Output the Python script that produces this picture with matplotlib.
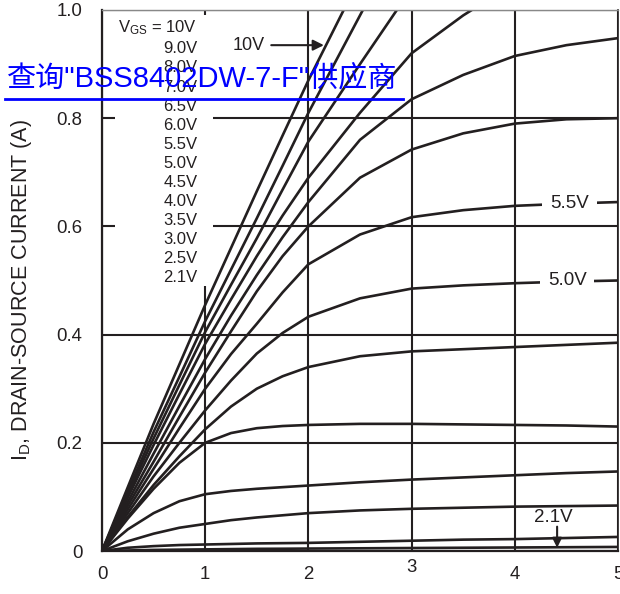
import matplotlib
matplotlib.use("Agg")
import matplotlib.pyplot as plt
from matplotlib.patches import Rectangle
from matplotlib.lines import Line2D
import numpy as np

plt.rcParams['font.family'] = ['Liberation Sans', 'DejaVu Sans']
plt.rcParams['mathtext.default'] = 'regular'

# Drain-source voltage sample points (V)
vds = [0, 0.25, 0.5, 0.75, 1.0, 1.25, 1.5, 1.75, 2.0, 2.5, 3.0, 3.5, 4.0, 4.5, 5.0]

# Drain current (A) for each gate voltage
id_10v = [0, .118, .235, .345, .455, .56, .665, .768, .87, 1.06, 1.24, 1.4, 1.55, 1.7, 1.85]
id_9v = [0, .11, .22, .322, .425, .52, .615, .712, .81, .99, 1.17, 1.33, 1.48, 1.62, 1.75]
id_8v = [0, .105, .208, .307, .405, .492, .578, .668, .757, .90, 1.04, 1.16, 1.27, 1.37, 1.46]
id_7v = [0, .099, .196, .29, .383, .465, .545, .62, .69, .81, .92, .99, 1.05, 1.10, 1.14]
id_6v5 = [0, .091, .18, .268, .355, .435, .51, .58, .645, .76, .835, .88, .915, .935, .948]
id_6v = [0, .084, .165, .248, .33, .406, .48, .545, .60, .69, .742, .772, .79, .798, .80]
id_5v5 = [0, .077, .152, .227, .30, .364, .42, .478, .53, .585, .617, .63, .638, .642, .645]
id_5v = [0, .07, .138, .20, .26, .315, .365, .403, .433, .467, .485, .491, .495, .498, .50]
id_4v5 = [0, .063, .122, .175, .225, .267, .30, .323, .34, .36, .369, .373, .377, .381, .385]
id_4v = [0, .06, .115, .163, .20, .218, .227, .231, .233, .235, .235, .234, .233, .232, .23]
id_3v5 = [0, .04, .07, .092, .105, .111, .115, .118, .121, .127, .132, .136, .14, .144, .147]
id_3v = [0, .018, .032, .043, .05, .057, .062, .066, .07, .075, .078, .08, .082, .083, .084]
id_2v5 = [0, .006, .009, .011, .012, .013, .014, .0145, .015, .017, .019, .021, .022, .024, .026]
id_2v1 = [0, .001, .002, .0025, .003, .0035, .004, .0042, .0045, .005, .0055, .006, .0065, .007, .0075]

curves = [id_10v, id_9v, id_8v, id_7v, id_6v5, id_6v, id_5v5, id_5v,
          id_4v5, id_4v, id_3v5, id_3v, id_2v5, id_2v1]

vgs_labels = ["9.0V", "8.0V", "7.0V", "6.5V", "6.0V", "5.5V", "5.0V",
              "4.5V", "4.0V", "3.5V", "3.0V", "2.5V", "2.1V"]

x_ticks = [0, 1, 2, 3, 4, 5]
y_ticks = [0, 0.2, 0.4, 0.6, 0.8, 1.0]
y_tick_labels = ["0", "0.2", "0.4", "0.6", "0.8", "1.0"]

ink = "#231f20"

fig = plt.figure(figsize=(6.2, 5.94), dpi=100)
ax = fig.add_axes([102 / 620, 1 - 551 / 594, 516 / 620, 541 / 594])

ax.set_xlim(0, 5)
ax.set_ylim(0, 1.0)
ax.set_xticks(x_ticks)
ax.set_xticklabels([str(t) for t in x_ticks])
ax.set_yticks(y_ticks)
ax.set_yticklabels(y_tick_labels)
ax.tick_params(axis='x', length=0, pad=11, labelsize=13.4, colors=ink)
ax.tick_params(axis='y', length=0, pad=14, labelsize=13.4, colors=ink)
# the "3" sits a little higher in the original
ax.xaxis.get_major_ticks()[3].set_pad(6)

ax.grid(True, color=ink, lw=1.5)
ax.set_axisbelow(True)

for side in ["left", "bottom"]:
    ax.spines[side].set_linewidth(1.6)
    ax.spines[side].set_color(ink)
ax.spines["right"].set_linewidth(1.2)
ax.spines["right"].set_color(ink)
ax.spines["top"].set_linewidth(1.0)
ax.spines["top"].set_color("#888888")

# white panel behind the gate-voltage list
ax.add_patch(Rectangle((0.126, 0.49), 0.954, 0.50, facecolor="white",
                       edgecolor="none", zorder=1))

for ids in curves:
    ax.plot(vds, ids, color=ink, lw=1.9, zorder=2)

# Gate-voltage list
ax.text(0.925, 0.967, r"V$_{GS}$ = 10V", ha="right", va="center",
        fontsize=12, color=ink, zorder=3)
for i, lab in enumerate(vgs_labels):
    ax.text(0.925, 0.928 - i * 0.0352, lab, ha="right", va="center",
            fontsize=12, color=ink, zorder=3)

# 10V callout
ax.annotate("", xy=(2.15, 0.935), xytext=(1.64, 0.935),
            arrowprops=dict(arrowstyle="-|>", color=ink, lw=1.5,
                            mutation_scale=16, shrinkA=0, shrinkB=0), zorder=4)
ax.text(1.27, 0.935, "10V", ha="left", va="center", fontsize=13, color=ink, zorder=4)

# curve labels on the right
box = dict(facecolor="white", edgecolor="none", pad=5.5)
ax.text(4.53, 0.643, "5.5V", ha="center", va="center", fontsize=13.5,
        color=ink, bbox=box, zorder=4)
ax.text(4.51, 0.50, "5.0V", ha="center", va="center", fontsize=13.5,
        color=ink, bbox=box, zorder=4)

# 2.1V callout
ax.text(4.37, 0.062, "2.1V", ha="center", va="center", fontsize=13.5, color=ink, zorder=4)
ax.annotate("", xy=(4.41, 0.006), xytext=(4.41, 0.045),
            arrowprops=dict(arrowstyle="-|>", color=ink, lw=1.5,
                            mutation_scale=14, shrinkA=0, shrinkB=0), zorder=4)

# y-axis title
fig.text(22 / 620, 1 - 461 / 594, r"I$_D$, DRAIN-SOURCE CURRENT (A)",
         rotation=90, ha="center", va="bottom", fontsize=15.5, color=ink)

# watermark overlay
fig.text(7 / 620, 1 - 78 / 594, "查询\"BSS8402DW-7-F\"供应商",
         family=['Liberation Sans', 'Noto Sans CJK SC'],
         ha="left", va="center", fontsize=21, color="#0000ff")
fig.add_artist(Line2D([5 / 620, 403 / 620], [1 - 99 / 594, 1 - 99 / 594],
                      color="#0000ff", lw=2))

plt.savefig("out.png", dpi=100)
